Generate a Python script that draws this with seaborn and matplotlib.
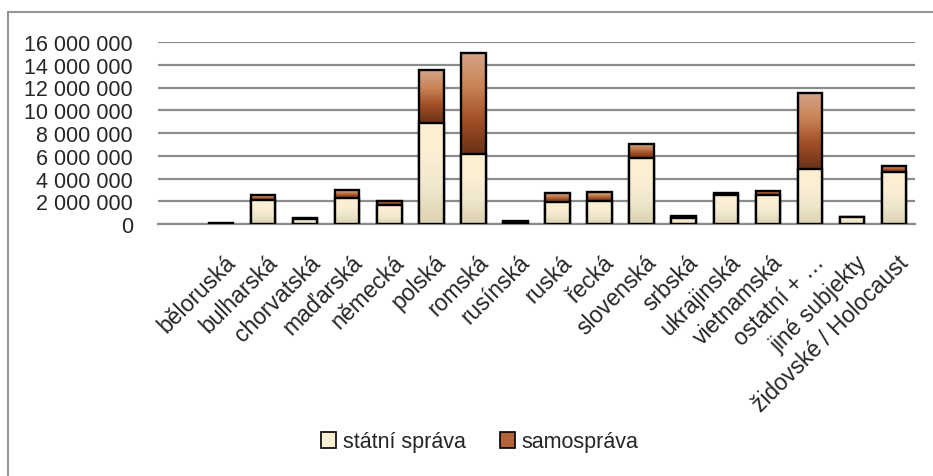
import matplotlib
matplotlib.use("Agg")
import matplotlib.pyplot as plt
from matplotlib.colors import LinearSegmentedColormap
from matplotlib.patches import Patch
from matplotlib.lines import Line2D
import matplotlib.transforms as mtransforms
import seaborn as sns
import numpy as np
import pandas as pd

# data
categories = ["běloruská", "bulharská", "chorvatská", "maďarská", "německá", "polská",
              "romská", "rusínská", "ruská", "řecká", "slovenská", "srbská",
              "ukrajinská", "vietnamská", "ostatní + …", "jiné subjekty",
              "židovské / Holocaust"]
statni = [30000, 2150000, 400000, 2290000, 1640000, 8900000,
          6170000, 90000, 1970000, 2030000, 5780000, 560000,
          2550000, 2520000, 4840000, 620000, 4550000]
samosprava = [20000, 400000, 160000, 680000, 390000, 4600000,
              8890000, 170000, 760000, 760000, 1270000, 140000,
              180000, 390000, 6700000, 0, 590000]
yticks = [0, 2000000, 4000000, 6000000, 8000000, 10000000, 12000000, 14000000, 16000000]

df = pd.DataFrame({"kategorie": categories, "statni": statni, "samosprava": samosprava})
df["celkem"] = df["statni"] + df["samosprava"]

sns.set_style("white")
plt.rcParams["font.family"] = ["Liberation Sans", "DejaVu Sans"]

fig = plt.figure(figsize=(9.33, 4.77), dpi=100)
ax = fig.add_axes([158 / 933, 1 - 225 / 477, (915 - 158) / 933, (225 - 43) / 477])

# gradienty
cm_stat = LinearSegmentedColormap.from_list("st", ["#DCD0AE", "#EFE6CC", "#FBEFD4", "#FDEFD2"])
cm_samo = LinearSegmentedColormap.from_list("sa", ["#6A3017", "#A14F25", "#C98455", "#D5A58A"])

sns.barplot(data=df, x="kategorie", y="celkem", order=categories, color="#B2643A",
            width=0.58, edgecolor="black", linewidth=1.7, ax=ax, zorder=3)
sns.barplot(data=df, x="kategorie", y="statni", order=categories, color="#F5EBCF",
            width=0.58, edgecolor="black", linewidth=1.7, ax=ax, zorder=5)

grad = np.linspace(0, 1, 256).reshape(-1, 1)
cont_tot, cont_st = ax.containers[0], ax.containers[1]
for i, (p_tot, p_st) in enumerate(zip(cont_tot, cont_st)):
    x0 = p_tot.get_x()
    w = p_tot.get_width()
    s = df["statni"][i]
    t = df["celkem"][i]
    if t > s:
        im = ax.imshow(grad, cmap=cm_samo, origin="lower", aspect="auto",
                       extent=[x0, x0 + w, s, t], zorder=2.9)
        im.set_clip_path(p_tot)
    if s > 0:
        im2 = ax.imshow(grad, cmap=cm_stat, origin="lower", aspect="auto",
                        extent=[x0, x0 + w, 0, s], zorder=4.9)
        im2.set_clip_path(p_st)
    p_tot.set_facecolor("none")
    p_st.set_facecolor("none")

ax.set_xlim(-1.5, len(categories) - 0.5)
ax.set_ylim(0, 16000000)
ax.set_yticks(yticks)
ax.set_yticklabels([f"{v:,}".replace(",", " ") for v in yticks], fontsize=15.5)
ax.yaxis.grid(True, color="#8C8C8C", linewidth=1.6, zorder=0)
ax.set_axisbelow(True)
for sp in ["top", "right", "left"]:
    ax.spines[sp].set_visible(False)
ax.spines["bottom"].set_color("#8C8C8C")
ax.spines["bottom"].set_linewidth(1.6)
ax.tick_params(axis="y", length=0, pad=18)
ax.tick_params(axis="x", length=0, pad=19)
ax.set_xlabel("")
ax.set_ylabel("")
posun = mtransforms.ScaledTranslation(3 / 100, 0, fig.dpi_scale_trans)
for lab in ax.get_xticklabels():
    lab.set_rotation(45)
    lab.set_ha("right")
    lab.set_rotation_mode("anchor")
    lab.set_fontsize(16.5)
    lab.set_transform(lab.get_transform() + posun)

# legenda
handles = [Patch(facecolor="#F8EED4", edgecolor="black", linewidth=1.2, label="státní správa"),
           Patch(facecolor="#B2643A", edgecolor="black", linewidth=1.2, label="samospráva")]
fig.legend(handles=handles, loc="center", bbox_to_anchor=(480 / 933, 1 - 443 / 477),
           ncol=2, frameon=False, fontsize=15.5, handlelength=0.7, handleheight=0.7,
           handletextpad=0.3, columnspacing=1.6)

# rámeček grafu
fig.add_artist(Line2D([8 / 933, 1], [1 - 13 / 477, 1 - 13 / 477], color="#969696", linewidth=1.5))
fig.add_artist(Line2D([8 / 933, 8 / 933], [0, 1 - 13 / 477], color="#969696", linewidth=1.5))

fig.savefig("out.png", dpi=100)
